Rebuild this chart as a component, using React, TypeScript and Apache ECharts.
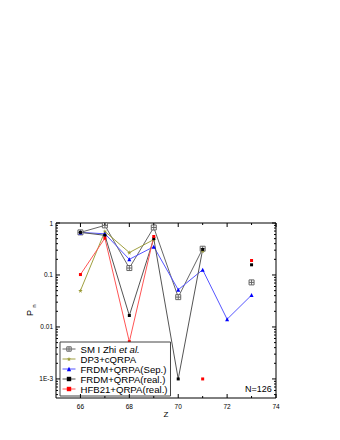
import React, { useEffect, useRef } from 'react';
import * as echarts from 'echarts';

const Z = [66, 67, 68, 69, 70, 71, 72, 73];
const smZhi = [0.66, 0.9, 0.136, 0.82, 0.0375, 0.32, null, 0.072];
const dp3 = [0.05, 0.69, 0.27, 0.48, null, 0.29, null, null];
const frdmSep = [0.66, 0.62, 0.2, 0.35, 0.052, 0.126, 0.0141, 0.041];
const frdmReal = [0.66, 0.58, 0.0166, 0.5, 0.001, 0.31, null, 0.157];
const hfb21 = [0.102, 0.51, 0.0052, 0.55, null, 0.001, null, 0.19];

const seriesNames = ['SM I Zhi et al.', 'DP3+cQRPA', 'FRDM+QRPA(Sep.)', 'FRDM+QRPA(real.)', 'HFB21+QRPA(real.)'];

const xTickValues = [66, 68, 70, 72, 74];
const xTickLabels = ['66', '68', '70', '72', '74'];
const xMinorTicks = [67, 69, 71, 73];
const yTickValues = [0.001, 0.01, 0.1, 1];
const yTickLabels = ['1E-3', '0.01', '0.1', '1'];
const yDecades = [0.0001, 0.001, 0.01, 0.1];
const yMinorMult = [2, 3, 4, 5, 6, 7, 8, 9];

const X_MIN = 65;
const X_MAX = 74;
const Y_MIN = 4.3e-4;
const Y_MAX = 1;

const FONT = 'Liberation Sans, Arial, sans-serif';

function pairs(vals: (number | null)[]) {
  return Z.map((z, i) => [z, vals[i] == null ? '-' : vals[i]]);
}

export default function App() {
  const ref = useRef<HTMLDivElement>(null);
  useEffect(() => {
    if (!ref.current) return;
    const chart = echarts.init(ref.current, undefined, { renderer: 'svg' });

    // tick marks: [kind(0=x,1=y), value, length, dummyX, dummyY]
    const tickData: number[][] = [];
    xTickValues.forEach((v) => tickData.push([0, v, 4, 70, 0.01]));
    xMinorTicks.forEach((v) => tickData.push([0, v, 2, 70, 0.01]));
    yTickValues.forEach((v) => tickData.push([1, v, 4, 70, 0.01]));
    yDecades.forEach((d) =>
      yMinorMult.forEach((m) => {
        const v = d * m;
        if (v > Y_MIN && v < Y_MAX) tickData.push([1, v, 2, 70, 0.01]);
      })
    );

    const starPath =
      'path://M5,0L6.2,3.8L10,3.8L6.9,6.1L8.1,10L5,7.6L1.9,10L3.1,6.1L0,3.8L3.8,3.8Z';
    const boxCross = 'path://M0,0L10,0L10,10L0,10Z M5,0L5,10 M0,5L10,5';

    const lineSeries = (
      name: string,
      vals: (number | null)[],
      lineColor: string,
      markColor: string,
      symbol: string,
      size: number,
      extraItem: any = {}
    ) => ({
      name,
      type: 'line',
      data: pairs(vals),
      connectNulls: false,
      showAllSymbol: true,
      symbol,
      symbolSize: size,
      lineStyle: { color: lineColor, width: 1 },
      itemStyle: { color: markColor, ...extraItem },
      emphasis: { disabled: true },
      z: 3,
    });

    const option: any = {
      animation: false,
      textStyle: { fontFamily: FONT },
      grid: {
        left: 56,
        top: 223,
        width: 220,
        height: 175,
        show: true,
        borderColor: '#000',
        borderWidth: 1,
        backgroundColor: 'transparent',
        containLabel: false,
      },
      xAxis: {
        type: 'value',
        min: X_MIN,
        max: X_MAX,
        interval: 1,
        name: 'Z',
        nameLocation: 'middle',
        nameGap: 8,
        nameTextStyle: { fontSize: 8, color: '#000', fontFamily: FONT },
        axisLine: { show: false },
        axisTick: { show: false },
        splitLine: { show: false },
        axisLabel: {
          fontSize: 6.5,
          color: '#000',
          margin: 5,
          fontFamily: FONT,
          formatter: (v: number) => {
            const i = xTickValues.indexOf(Math.round(v));
            return i >= 0 && Math.abs(v - Math.round(v)) < 1e-6 ? xTickLabels[i] : '';
          },
        },
      },
      yAxis: {
        type: 'log',
        min: Y_MIN,
        max: Y_MAX,
        logBase: 10,
        axisLine: { show: false },
        axisTick: { show: false },
        splitLine: { show: false },
        axisLabel: {
          fontSize: 6.5,
          color: '#000',
          margin: 3,
          fontFamily: FONT,
          showMinLabel: false,
          formatter: (v: number) => {
            for (let i = 0; i < yTickValues.length; i++) {
              if (Math.abs(v / yTickValues[i] - 1) < 1e-6) return yTickLabels[i];
            }
            return '';
          },
        },
      },
      legend: {
        data: [
          {
            name: seriesNames[0],
            itemStyle: { color: '#ffffff', borderColor: '#666666', borderWidth: 1 },
          },
          seriesNames[1],
          seriesNames[2],
          seriesNames[3],
          seriesNames[4],
        ],
        orient: 'vertical',
        left: 60,
        top: 342,
        padding: [2, 3, 2, 2],
        itemWidth: 13,
        itemHeight: 5.5,
        itemGap: 0,
        borderColor: '#444',
        borderWidth: 1,
        backgroundColor: '#fff',
        selectedMode: false,
        lineStyle: { width: 1 },
        textStyle: {
          fontSize: 9.6,
          color: '#000',
          fontFamily: FONT,
          lineHeight: 10,
          rich: {
            n: { fontSize: 9.6, fontFamily: FONT, color: '#000', lineHeight: 10 },
            i: { fontSize: 9.6, fontFamily: FONT, fontStyle: 'italic', color: '#000', lineHeight: 10 },
          },
        },
        formatter: (name: string) =>
          name === seriesNames[0] ? '{n|SM I Zhi }{i|et al.}' : name,
      },
      graphic: [
        {
          type: 'text',
          left: 245,
          top: 384,
          style: { text: 'N=126', fontSize: 9, fill: '#000', fontFamily: FONT },
        },
        {
          type: 'text',
          x: 30,
          y: 313,
          rotation: Math.PI / 2,
          style: {
            text: 'P',
            fontSize: 9,
            fill: '#000',
            fontFamily: FONT,
            align: 'center',
            verticalAlign: 'middle',
          },
        },
        {
          type: 'text',
          x: 34,
          y: 306,
          rotation: Math.PI / 2,
          style: {
            text: 'n',
            fontSize: 6,
            fill: '#000',
            fontFamily: FONT,
            align: 'center',
            verticalAlign: 'middle',
          },
        },
      ],
      series: [
        lineSeries(seriesNames[0], smZhi, '#666666', '#ffffff', boxCross, 5, {
          borderColor: '#666666',
          borderWidth: 1,
        }),
        lineSeries(seriesNames[1], dp3, '#a0a040', '#999933', starPath, 4.5),
        lineSeries(seriesNames[2], frdmSep, '#5555ff', '#0000ff', 'triangle', 4),
        lineSeries(seriesNames[3], frdmReal, '#555555', '#000000', 'rect', 3),
        lineSeries(seriesNames[4], hfb21, '#ff5555', '#ff0000', 'rect', 3),
        {
          name: 'ticks',
          type: 'custom',
          data: tickData,
          encode: { x: 3, y: 4 },
          silent: true,
          clip: false,
          z: 5,
          renderItem: (params: any, api: any) => {
            const cs = params.coordSys;
            const kind = api.value(0);
            const v = api.value(1);
            const len = api.value(2);
            const style = { stroke: '#000', lineWidth: 1 };
            if (kind === 0) {
              const x = api.coord([v, 0.01])[0];
              const yb = cs.y + cs.height;
              return {
                type: 'group',
                children: [
                  { type: 'line', shape: { x1: x, y1: yb, x2: x, y2: yb - len }, style },
                  { type: 'line', shape: { x1: x, y1: cs.y, x2: x, y2: cs.y + len }, style },
                ],
              };
            }
            const y = api.coord([70, v])[1];
            const xr = cs.x + cs.width;
            return {
              type: 'group',
              children: [
                { type: 'line', shape: { x1: cs.x, y1: y, x2: cs.x + len, y2: y }, style },
                { type: 'line', shape: { x1: xr, y1: y, x2: xr - len, y2: y }, style },
              ],
            };
          },
        },
      ],
    };
    chart.setOption(option);
    return () => chart.dispose();
  }, []);
  return (
    <div
      ref={ref}
      style={{ position: 'fixed', left: 0, top: 0, width: 340, height: 440, background: '#fff' }}
    />
  );
}
